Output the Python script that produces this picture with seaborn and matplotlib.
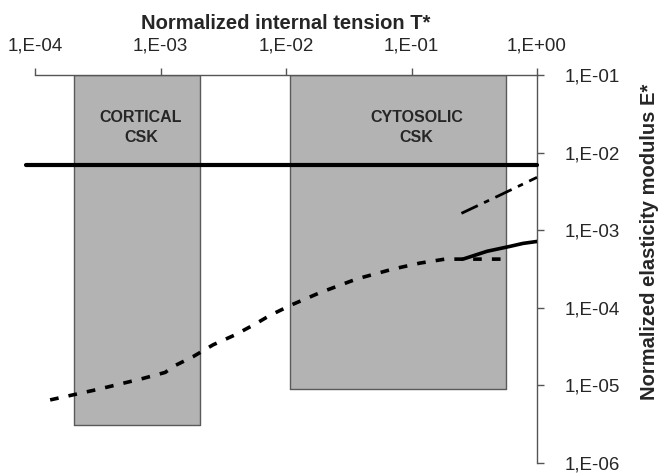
import numpy as np
import pandas as pd
import matplotlib
matplotlib.use("Agg")
import matplotlib.pyplot as plt
import seaborn as sns
from matplotlib.ticker import FixedLocator, FuncFormatter, NullLocator

# ================= DADOS =================
# faixas (T*, E*) dos dois citoesqueletos
cortical_t = [2.05e-4, 2.07e-3]
cortical_e = [3.1e-6, 1e-1]
cytosolic_t = [1.07e-2, 0.57]
cytosolic_e = [9.0e-6, 1e-1]

# linha horizontal (E* constante)
flat_t = [8.5e-5, 1.0]
flat_e = [7.0e-3, 7.0e-3]

# curva tracejada
dash_t = [1.32e-4, 3.18e-4, 7.26e-4, 1.09e-3, 1.26e-3, 1.82e-3, 2.62e-3, 3.92e-3,
          5.66e-3, 7.46e-3, 1.12e-2, 1.87e-2, 3.68e-2, 7.13e-2, 0.117, 0.185, 0.587]
dash_e = [6.5e-6, 8.9e-6, 1.23e-5, 1.47e-5, 1.75e-5, 2.35e-5, 3.33e-5, 4.47e-5,
          6.15e-5, 8.0e-5, 1.1e-4, 1.57e-4, 2.36e-4, 3.16e-4, 3.77e-4, 4.24e-4, 4.24e-4]

# curva traço-ponto
dashdot_t = [0.25, 0.5, 1.0]
dashdot_e = [1.65e-3, 2.8e-3, 4.8e-3]

# curva contínua
solid_t = [0.257, 0.40, 0.61, 0.773, 1.0]
solid_e = [4.24e-4, 5.35e-4, 6.19e-4, 6.76e-4, 7.16e-4]

x_exps = [-4, -3, -2, -1, 0]
y_exps = [-6, -5, -4, -3, -2, -1]

# ================= FIGURA =================
sns.set_style("white")
plt.rcParams['font.family'] = ['Liberation Sans', 'DejaVu Sans']

fig = plt.figure(figsize=(6.6, 4.75), dpi=100)
ax = fig.add_axes([35 / 660, 12 / 475, 502 / 660, 388 / 475])
ax.set_xscale('log')
ax.set_yscale('log')

cinza = '#b3b3b3'
borda = '#5a5a5a'
for tt, ee in [(cortical_t, cortical_e), (cytosolic_t, cytosolic_e)]:
    ax.fill_between(tt, ee[0], ee[1], color=cinza, zorder=1, lw=0)
    ax.plot([tt[0], tt[0], tt[1], tt[1], tt[0]], [ee[0], ee[1], ee[1], ee[0], ee[0]],
            color=borda, lw=1.0, zorder=1.5)

df_flat = pd.DataFrame({'T': flat_t, 'E': flat_e})
df_dash = pd.DataFrame({'T': dash_t, 'E': dash_e})
df_dd = pd.DataFrame({'T': dashdot_t, 'E': dashdot_e})
df_solid = pd.DataFrame({'T': solid_t, 'E': solid_e})

sns.lineplot(data=df_flat, x='T', y='E', ax=ax, color='black', lw=3, zorder=3, clip_on=False)
sns.lineplot(data=df_dash, x='T', y='E', ax=ax, color='black', lw=2.6,
             linestyle=(0, (2.4, 2.8)), zorder=3)
sns.lineplot(data=df_dd, x='T', y='E', ax=ax, color='black', lw=2.0,
             linestyle=(0, (6.5, 2.5, 2, 2.5)), zorder=3)
sns.lineplot(data=df_solid, x='T', y='E', ax=ax, color='black', lw=2.6, zorder=3)

ax.set_xlim(1e-4, 1.0)
ax.set_ylim(1e-6, 1e-1)

# eixos: topo e direita
ax.xaxis.tick_top()
ax.xaxis.set_label_position('top')
ax.yaxis.tick_right()
ax.yaxis.set_label_position('right')
for lado in ['left', 'bottom']:
    ax.spines[lado].set_visible(False)
for lado in ['top', 'right']:
    ax.spines[lado].set_visible(True)
    ax.spines[lado].set_color('#555555')
    ax.spines[lado].set_linewidth(1.0)

fmt = FuncFormatter(lambda v, p: "1,E{:+03d}".format(int(round(np.log10(v)))))
ax.xaxis.set_major_locator(FixedLocator([10.0 ** e for e in x_exps]))
ax.yaxis.set_major_locator(FixedLocator([10.0 ** e for e in y_exps]))
ax.xaxis.set_minor_locator(NullLocator())
ax.yaxis.set_minor_locator(NullLocator())
ax.xaxis.set_major_formatter(fmt)
ax.yaxis.set_major_formatter(fmt)
ax.tick_params(axis='both', which='major', length=5, width=1, color='#555555',
               labelsize=13.5, pad=10, direction='out')
ax.tick_params(axis='y', pad=15)

ax.set_xlabel("Normalized internal tension T*", fontsize=14.5, fontweight='bold', labelpad=6)
ax.set_ylabel("Normalized elasticity modulus E*", fontsize=14.5, fontweight='bold',
              ha='center', va='center')
ax.yaxis.set_label_coords(1.225, 0.57)

ax.text(7e-4, 0.021, "CORTICAL\nCSK", ha='center', va='center', fontsize=11.5,
        fontweight='bold', linespacing=1.45, zorder=4)
ax.text(0.11, 0.021, "CYTOSOLIC\nCSK", ha='center', va='center', fontsize=11.5,
        fontweight='bold', linespacing=1.45, zorder=4)

ax.grid(False)
fig.savefig("out.png", dpi=100)
